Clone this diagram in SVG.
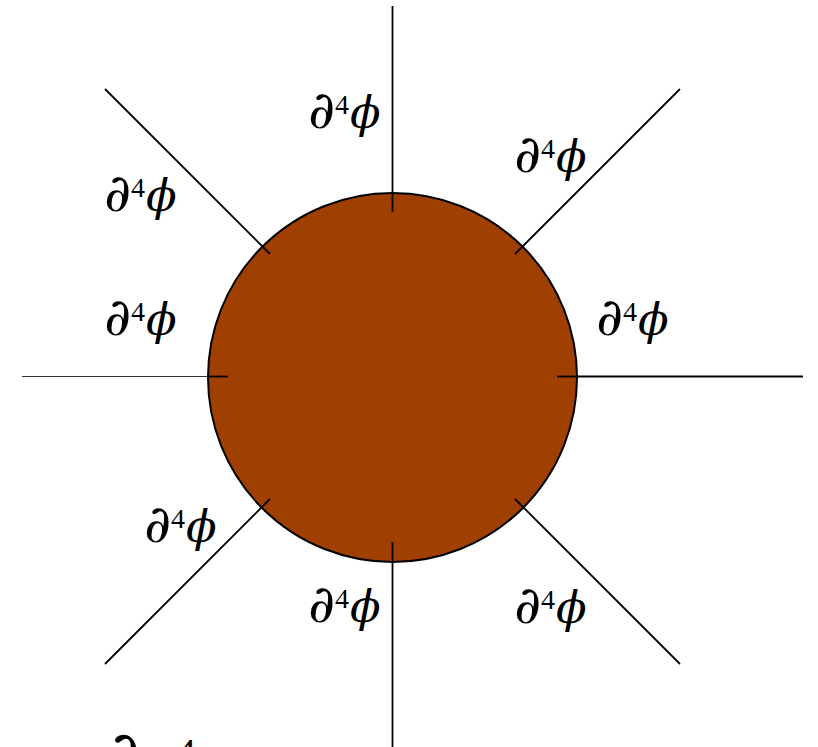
<svg xmlns="http://www.w3.org/2000/svg" width="818" height="747" viewBox="0 0 818 747">
<style>
.ln{stroke:#000;stroke-width:1.8;fill:none}
.thin{stroke:#333;stroke-width:1.2}
.lbl{font-family:"DejaVu Serif","Liberation Serif",serif;font-size:52px;fill:#000}
.sup{font-family:"Liberation Serif",serif;font-size:28px}
.phi{font-family:"DejaVu Serif",serif;font-style:italic;font-size:45px}
</style>
<rect width="818" height="747" fill="#fff"/>
<g id="connectors">
<line class="ln" x1="392.5" y1="6" x2="392.5" y2="212"/>
<line class="ln" x1="392.5" y1="542" x2="392.5" y2="747"/>
<line class="ln thin" x1="22" y1="376.5" x2="228" y2="376.5"/>
<line class="ln" x1="557" y1="376.5" x2="803" y2="376.5"/>
<line class="ln" x1="105" y1="89" x2="270" y2="254"/>
<line class="ln" x1="680" y1="89" x2="515" y2="254"/>
<line class="ln" x1="105" y1="664" x2="270" y2="499"/>
<line class="ln" x1="680" y1="664" x2="515" y2="499"/>
</g>
<g id="blob">
<circle cx="392.5" cy="377.5" r="184.5" fill="#A04000" stroke="#000" stroke-width="2"/>
<line class="ln" x1="392.5" y1="192" x2="392.5" y2="212"/>
<line class="ln" x1="392.5" y1="542" x2="392.5" y2="563"/>
<line class="ln" x1="208" y1="376.5" x2="228" y2="376.5"/>
<line class="ln" x1="557" y1="376.5" x2="577" y2="376.5"/>
<line class="ln" x1="262" y1="246" x2="270" y2="254"/>
<line class="ln" x1="523" y1="246" x2="515" y2="254"/>
<line class="ln" x1="262" y1="507" x2="270" y2="499"/>
<line class="ln" x1="523" y1="507" x2="515" y2="499"/>
</g>
<g id="labels">
<text class="lbl" x="308" y="128">∂<tspan class="sup" dy="-14">4</tspan><tspan class="phi" dy="14" dx="1">ϕ</tspan></text>
<text class="lbl" x="514" y="172">∂<tspan class="sup" dy="-14">4</tspan><tspan class="phi" dy="14" dx="1">ϕ</tspan></text>
<text class="lbl" x="104" y="211">∂<tspan class="sup" dy="-14">4</tspan><tspan class="phi" dy="14" dx="1">ϕ</tspan></text>
<text class="lbl" x="104" y="335">∂<tspan class="sup" dy="-14">4</tspan><tspan class="phi" dy="14" dx="1">ϕ</tspan></text>
<text class="lbl" x="596" y="335">∂<tspan class="sup" dy="-14">4</tspan><tspan class="phi" dy="14" dx="1">ϕ</tspan></text>
<text class="lbl" x="144" y="542">∂<tspan class="sup" dy="-14">4</tspan><tspan class="phi" dy="14" dx="1">ϕ</tspan></text>
<text class="lbl" x="308" y="622">∂<tspan class="sup" dy="-14">4</tspan><tspan class="phi" dy="14" dx="1">ϕ</tspan></text>
<text class="lbl" x="514" y="623">∂<tspan class="sup" dy="-14">4</tspan><tspan class="phi" dy="14" dx="1">ϕ</tspan></text>
<text class="lbl" x="104" y="780" style="font-size:70px">∂</text>
<text class="lbl" x="176" y="766" style="font-family:'Liberation Serif',serif;font-size:40px">4</text>
</g>
</svg>
